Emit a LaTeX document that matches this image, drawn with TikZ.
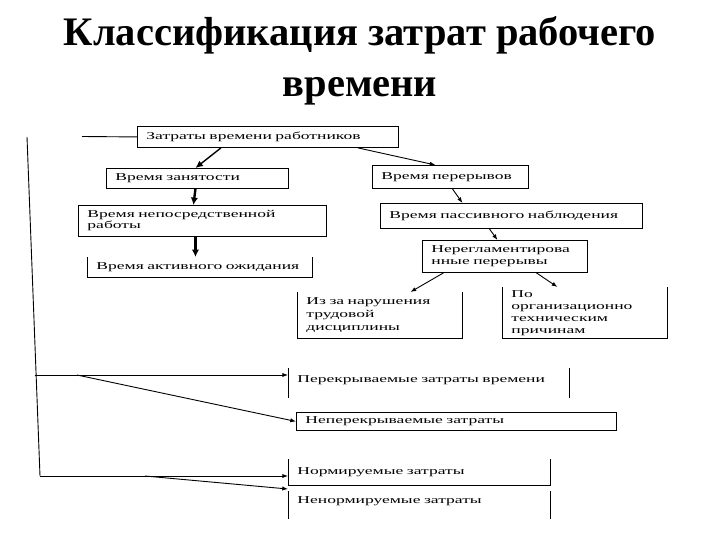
\documentclass[tikz,border=0pt]{standalone}
\usepackage{fontspec}
\setmainfont{Liberation Serif}
\newfontfamily\boxfont{Liberation Serif}[FakeStretch=1.67]
\usetikzlibrary{arrows.meta}

\begin{document}
\begin{tikzpicture}[x=1pt, y=-1pt, line width=0.9pt, >={Latex[length=2mm]},
	box/.style={draw, anchor=north west, inner xsep=9pt, inner ysep=2pt, align=left, font=\boxfont\fontsize{10.5}{13}\selectfont},
	bare/.style={box, draw=none},
	thick arrow/.style={->, line width=2.4pt, >={Latex[length=2.6mm, width=2.6mm]}}]
	\useasboundingbox (0,0) rectangle (720,540);
	% title
	\node[anchor=base, font=\fontsize{40.5}{48}\selectfont\bfseries] (title1) at (360,46) {Классификация затрат рабочего};
	\node[anchor=base, font=\fontsize{40.5}{48}\selectfont\bfseries] (title2) at (360,97) {времени};
	% upper tree
	\node[box, text width=243pt, minimum height=21pt] (top) at (137,126) {Затраты времени работников};
	\node[box, text width=164pt, minimum height=20pt] (zan) at (106,168) {Время занятости};
	\node[box, text width=138pt, minimum height=23pt] (pereryv) at (372,165) {Время перерывов};
	\node[box, text width=230pt, minimum height=31pt, font=\boxfont\fontsize{10.5}{11}\selectfont] (neposr) at (78,205) {Время непосредственной\\работы};
	\node[box, text width=244pt, minimum height=25pt] (passiv) at (380,203) {Время пассивного наблюдения};
	\node[bare, text width=207pt, minimum height=20pt] (aktiv) at (87,257) {Время активного ожидания};
	\node[box, text width=147pt, minimum height=32pt, font=\boxfont\fontsize{10.5}{12}\selectfont] (nereg) at (422,240) {Нерегламентирова\\нные перерывы};
	\node[bare, text width=147pt, minimum height=46pt] (narush) at (297,292) {Из за нарушения\\трудовой\\дисциплины};
	\node[bare, text width=147pt, minimum height=51pt, font=\boxfont\fontsize{10.5}{12}\selectfont] (orgtech) at (502,287) {По\\организационно\\техническим\\причинам};
	% lower groups
	\node[bare, text width=263pt, text height=12pt, text depth=13pt] (perekr) at (288,368) {Перекрываемые затраты времени};
	\node[box, text width=302pt, minimum height=18pt] (neperekr) at (296,412) {Неперекрываемые затраты};
	\node[bare, text width=244pt, minimum height=26pt] (norm) at (288,459) {Нормируемые затраты};
	\node[bare, text width=244pt, text height=10pt, text depth=13pt] (nenorm) at (288,491) {Ненормируемые затраты};
	\foreach \n in {aktiv,narush,orgtech,norm}
		\draw (\n.north west) -- (\n.south west) -- (\n.south east) -- (\n.north east);
	\foreach \n in {perekr,nenorm}
		\draw (\n.north west) -- (\n.south west) (\n.north east) -- (\n.south east);
	% connectors
	\draw[->, line width=1.4pt, >={Latex[length=2.6mm, width=2.4mm]}] ([xshift=-47pt]top.south) -- ([xshift=-2pt]zan.north);
	\draw[->] ([xshift=90pt]top.south) -- ([xshift=-15pt]pereryv.north);
	\draw[thick arrow] ([xshift=-2pt]zan.south) -- ([xshift=-9pt]neposr.north);
	\draw[thick arrow] ([xshift=-7pt]neposr.south) -- ([xshift=-4.5pt]aktiv.north);
	\draw[->] ([xshift=2pt]pereryv.south) -- ([xshift=-49pt]passiv.north);
	\draw[->] ([xshift=-22pt]passiv.south) -- ([xshift=-7.5pt]nereg.north);
	\draw[->] ([xshift=-61.5pt]nereg.south) -- ([xshift=30.5pt]narush.north);
	\draw[->] ([xshift=31.5pt]nereg.south) -- ([xshift=-27.5pt]orgtech.north);
	% left bracket line
	\coordinate (stub) at (82,136.5);
	\coordinate (ltop) at (27,137);
	\coordinate (lbot) at (40,476);
	\coordinate (b1) at (34.5,375);
	\coordinate (b1d) at (77,375);
	\coordinate (b2d) at (145,476);
	\draw (stub) -- (top.west);
	\draw (ltop) -- (lbot);
	\draw[->] (b1) -- (b1 -| perekr.west);
	\draw[->] (b1d) -- (neperekr.west);
	\draw[->] (lbot) -- (lbot -| norm.west);
	\draw[->] (b2d) -- ([yshift=2pt]nenorm.north west);
\end{tikzpicture}
\end{document}
